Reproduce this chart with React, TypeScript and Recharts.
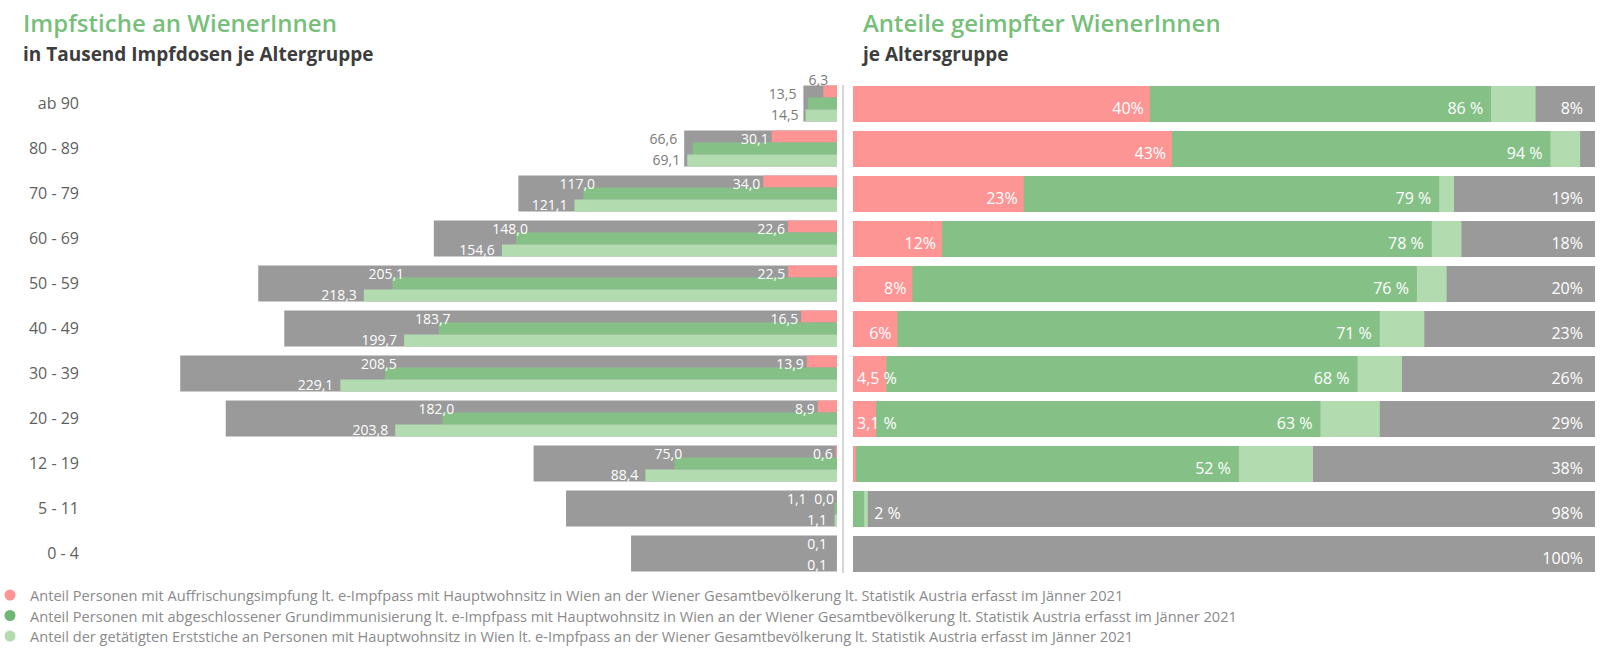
import { Bar, BarChart, LabelList, XAxis, YAxis } from 'recharts';

const ageGroups = ['ab 90', '80 - 89', '70 - 79', '60 - 69', '50 - 59', '40 - 49', '30 - 39', '20 - 29', '12 - 19', '5 - 11', '0 - 4'];

// linke Seite: in Tausend
const boosterK = [6.3, 30.1, 34.0, 22.6, 22.5, 16.5, 13.9, 8.9, 0.6, 0.0, null];
const grundK = [13.5, 66.6, 117.0, 148.0, 205.1, 183.7, 208.5, 182.0, 75.0, 1.1, 0.1];
const erstK = [14.5, 69.1, 121.1, 154.6, 218.3, 199.7, 229.1, 203.8, 88.4, 1.1, 0.1];
const bevoelkerungK = [15.5, 70.5, 147, 186, 267, 255, 303, 282, 140, 125, 95];

// rechte Seite: Anteile in %
const boosterPct = [40, 43, 23, 12, 8, 6, 4.5, 3.1, 0.4, 0, 0];
const grundPct = [86, 94, 79, 78, 76, 71, 68, 63, 52, 1.5, 0];
const erstPct = [92, 98, 81, 82, 80, 77, 74, 71, 62, 2, 0];
const gesamtPct = [100, 100, 100, 100, 100, 100, 100, 100, 100, 100, 100];
const ungeimpftPct = [8, 2, 19, 18, 20, 23, 26, 29, 38, 98, 100];

const legendItems = [
  'Anteil Personen mit Auffrischungsimpfung lt. e-Impfpass mit Hauptwohnsitz in Wien an der Wiener Gesamtbevölkerung lt. Statistik Austria erfasst im Jänner 2021',
  'Anteil Personen mit abgeschlossener Grundimmunisierung lt. e-Impfpass mit Hauptwohnsitz in Wien an der Wiener Gesamtbevölkerung lt. Statistik Austria erfasst im Jänner 2021',
  'Anteil der getätigten Erststiche an Personen mit Hauptwohnsitz in Wien lt. e-Impfpass an der Wiener Gesamtbevölkerung lt. Statistik Austria erfasst im Jänner 2021',
];

const RED = '#fe9595';
const GREEN = '#85c187';
const LIGHT = '#b2dbb0';
const GRAY = '#9a9a9a';
const TITLE_GREEN = '#77bf7b';
const GRAY_TXT = '#7a7a7a';
const FONT = "'Open Sans', sans-serif";

const leftData = ageGroups.map((age, i) => ({ age, pop: bevoelkerungK[i], booster: boosterK[i], grund: grundK[i], erst: erstK[i] }));
const rightData = ageGroups.map((age, i) => ({ age, gesamt: gesamtPct[i], booster: boosterPct[i], grund: grundPct[i], erst: erstPct[i] }));

// geometry of the left plot
const L_W = 840;
const L_AXIS_W = 87;
const L_RIGHT = L_W - 3;
const L_MAX = 346;
const pxPerK = (L_RIGHT - L_AXIS_W) / L_MAX;
const xOfK = (v: number) => L_RIGHT - v * pxPerK;

// geometry of the right plot
const R_W = 773;
const R_MARGIN_R = 21;
const R_RIGHT = R_W - R_MARGIN_R;

const charEm = (c: string) => (c >= '0' && c <= '9' ? 0.572 : c === ',' ? 0.245 : c === ' ' ? 0.26 : c === '%' ? 0.83 : 0.57);
const textW = (s: string, size: number) => s.split('').reduce((a, c) => a + charEm(c) * size, 0);
const fmtK = (v: number) => v.toFixed(1).replace('.', ',');

const box = (p: any) => {
  const b = p.viewBox ?? p;
  const x = Number(b.x ?? p.x);
  const w = Number(b.width ?? p.width);
  return { left: Math.min(x, x + w), right: Math.max(x, x + w), w: Math.abs(w), y: Number(b.y ?? p.y), h: Number(b.height ?? p.height) };
};

function redPlacement(i: number) {
  const v = boosterK[i];
  if (v == null) return null;
  const s = fmtK(v);
  const end = xOfK(v) - 3;
  const left = end - textW(s, 14);
  return { v, s, end, left, inline: left >= xOfK(bevoelkerungK[i]) + 2 };
}

function placeOutside(end: number, w: number, grayEnd: number) {
  if (end - w < grayEnd && end > grayEnd) return grayEnd - 7;
  return end;
}

// top text line of a row: Grundimmunisierung + Auffrischung (drawn from the green bar)
function LeftTopLabels(p: any) {
  const i = p.index;
  const b = box(p);
  const lineY = b.y - 4;
  const v = grundK[i];
  const s = fmtK(v);
  const w = textW(s, 14);
  let end = Math.min(xOfK(v) - 6 + w / 2, L_RIGHT - 10);
  const r = redPlacement(i);
  if (r && r.inline) end = Math.min(end, r.left - 8);
  const grayEnd = xOfK(bevoelkerungK[i]);
  end = placeOutside(end, w, grayEnd);
  return (
    <g>
      <text x={end} y={lineY} textAnchor="end" dominantBaseline="central" fontSize={14} fill={end <= grayEnd + 1 ? GRAY_TXT : '#fff'}>{s}</text>
      {r && r.inline && (
        <text x={r.end} y={lineY} textAnchor="end" dominantBaseline="central" fontSize={14} fill="#fff">{r.s}</text>
      )}
      {r && !r.inline && (
        <text x={xOfK(r.v) - 5} y={b.y - 18} textAnchor="middle" dominantBaseline="central" fontSize={14} fill={GRAY_TXT}>{r.s}</text>
      )}
    </g>
  );
}

function LeftErstLabel(p: any) {
  const i = p.index;
  const v = erstK[i];
  const s = fmtK(v);
  const w = textW(s, 14);
  const grayEnd = xOfK(bevoelkerungK[i]);
  const end = placeOutside(Math.min(xOfK(v) - 7, L_RIGHT - 10), w, grayEnd);
  const b = box(p);
  return <text x={end} y={b.y + b.h / 2 - 1} textAnchor="end" dominantBaseline="central" fontSize={14} fill={end <= grayEnd + 1 ? GRAY_TXT : '#fff'}>{s}</text>;
}

function RightRedLabel(p: any) {
  const v = boosterPct[p.index];
  if (v < 1) return null;
  const s = Number.isInteger(v) ? `${v}%` : `${String(v).replace('.', ',')} %`;
  const b = box(p);
  const fits = b.w >= textW(s, 16) + 10;
  return (
    <text x={fits ? b.right - 6 : b.left + 4} y={b.y + b.h / 2 + 4} textAnchor={fits ? 'end' : 'start'} dominantBaseline="central" fontSize={16} fill="#fff">{s}</text>
  );
}

function RightGrundLabel(p: any) {
  const v = grundPct[p.index];
  if (v <= 0) return null;
  const s = `${Math.round(v)} %`;
  const b = box(p);
  const fits = b.w >= textW(s, 16) + 14;
  return (
    <text x={fits ? b.right - 8 : b.right + 10} y={b.y + b.h / 2 + 4} textAnchor={fits ? 'end' : 'start'} dominantBaseline="central" fontSize={16} fill="#fff">{s}</text>
  );
}

function RightRestLabel(p: any) {
  const v = ungeimpftPct[p.index];
  if (v < 5) return null;
  const b = box(p);
  return <text x={R_RIGHT - 12} y={b.y + b.h / 2 + 4} textAnchor="end" dominantBaseline="central" fontSize={16} fill="#fff">{`${v}%`}</text>;
}

export default function App() {
  return (
    <div style={{ position: 'absolute', left: 0, top: 0, width: 1616, height: 651, background: '#fff', fontFamily: FONT, overflow: 'hidden' }}>
      <svg width={1616} height={651} style={{ position: 'absolute', left: 0, top: 0 }}>
        <text x={23} y={32} fontSize={24} fontWeight={600} fill={TITLE_GREEN}>Impfstiche an WienerInnen</text>
        <text x={23} y={61} fontSize={19} fontWeight={700} fill="#3d3d3d">in Tausend Impfdosen je Altergruppe</text>
        <text x={863} y={32} fontSize={24} fontWeight={600} fill={TITLE_GREEN}>Anteile geimpfter WienerInnen</text>
        <text x={863} y={61} fontSize={19} fontWeight={700} fill="#3d3d3d">je Altersgruppe</text>
        <rect x={842} y={85} width={2} height={488} fill="#d6d6d6" />
        {legendItems.map((t, i) => (
          <g key={t}>
            <circle cx={10} cy={595 + i * 20.5} r={5.5} fill={[RED, '#6fb674', LIGHT][i]} />
            <text x={30} y={601 + i * 20.5} fontSize={14.6} fill="#8a8a8a">{t}</text>
          </g>
        ))}
      </svg>

      <div style={{ position: 'absolute', left: 0, top: 0 }}>
        <BarChart width={L_W} height={600} data={leftData} layout="vertical" margin={{ top: 81, right: 3, bottom: 24, left: 0 }} barCategoryGap="10%" barGap={0}>
          <XAxis type="number" xAxisId="bg" domain={[0, L_MAX]} reversed hide />
          <XAxis type="number" xAxisId="fg" domain={[0, L_MAX]} reversed hide />
          <YAxis type="category" yAxisId="fg" dataKey="age" width={L_AXIS_W} interval={0} tickLine={false} axisLine={false} tick={{ fill: '#5f5f5f', fontSize: 16 }} />
          <YAxis type="category" yAxisId="bg" dataKey="age" width={0} hide />
          <Bar xAxisId="bg" yAxisId="bg" dataKey="pop" fill={GRAY} isAnimationActive={false} />
          <Bar xAxisId="fg" yAxisId="fg" dataKey="booster" fill={RED} isAnimationActive={false} />
          <Bar xAxisId="fg" yAxisId="fg" dataKey="grund" fill={GREEN} isAnimationActive={false}>
            <LabelList content={(p: any) => <LeftTopLabels {...p} />} />
          </Bar>
          <Bar xAxisId="fg" yAxisId="fg" dataKey="erst" fill={LIGHT} isAnimationActive={false}>
            <LabelList content={(p: any) => <LeftErstLabel {...p} />} />
          </Bar>
        </BarChart>
      </div>

      <div style={{ position: 'absolute', left: 843, top: 0 }}>
        <BarChart width={R_W} height={600} data={rightData} layout="vertical" margin={{ top: 81, right: R_MARGIN_R, bottom: 24, left: 10 }} barSize={36} barGap={-36}>
          <XAxis type="number" domain={[0, 100]} hide />
          <YAxis type="category" dataKey="age" hide />
          <Bar dataKey="gesamt" fill={GRAY} isAnimationActive={false}>
            <LabelList content={(p: any) => <RightRestLabel {...p} />} />
          </Bar>
          <Bar dataKey="erst" fill={LIGHT} isAnimationActive={false} />
          <Bar dataKey="grund" fill={GREEN} isAnimationActive={false}>
            <LabelList content={(p: any) => <RightGrundLabel {...p} />} />
          </Bar>
          <Bar dataKey="booster" fill={RED} isAnimationActive={false}>
            <LabelList content={(p: any) => <RightRedLabel {...p} />} />
          </Bar>
        </BarChart>
      </div>
    </div>
  );
}
